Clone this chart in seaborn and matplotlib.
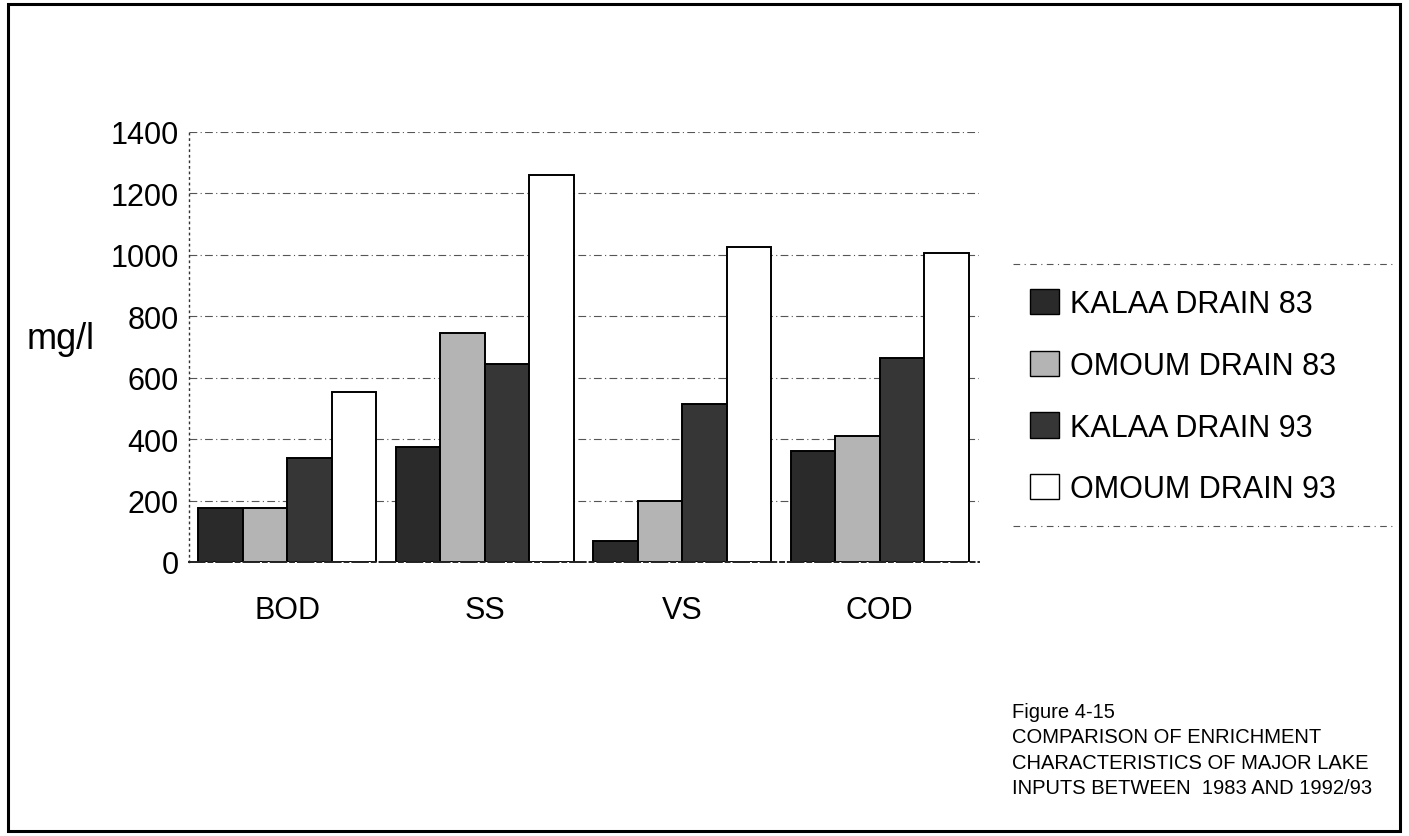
import numpy as np
import pandas as pd
import matplotlib
matplotlib.use("Agg")
import matplotlib.pyplot as plt
import seaborn as sns
from matplotlib import font_manager
from matplotlib.patches import Patch, Rectangle
from matplotlib.lines import Line2D

# Pollutant parameters along the x axis
parameters = ["BOD", "SS", "VS", "COD"]

# Drain / survey-year series
series_names = ["KALAA DRAIN 83", "OMOUM DRAIN 83", "KALAA DRAIN 93", "OMOUM DRAIN 93"]

# Concentrations in mg/l, one value per parameter
kalaa_83 = [175, 375, 70, 360]
omoum_83 = [175, 745, 200, 410]
kalaa_93 = [340, 645, 515, 665]
omoum_93 = [555, 1260, 1025, 1005]

y_ticks = [0, 200, 400, 600, 800, 1000, 1200, 1400]

caption_lines = [
    "Figure 4-15",
    "COMPARISON OF ENRICHMENT",
    "CHARACTERISTICS OF MAJOR LAKE",
    "INPUTS BETWEEN  1983 AND 1992/93",
]

values = kalaa_83 + omoum_83 + kalaa_93 + omoum_93
df = pd.DataFrame({
    "parameter": parameters * len(series_names),
    "series": np.repeat(series_names, len(parameters)),
    "mg_l": values,
})

sns.set_theme(style="white")
plt.rcParams["font.family"] = ["Liberation Sans", "DejaVu Sans"]
plt.rcParams["text.color"] = "black"
plt.rcParams["axes.labelcolor"] = "black"

W, H = 1409, 837
fig = plt.figure(figsize=(W / 100, H / 100), dpi=100)
fig.patch.set_facecolor("white")


def fx(px):
    return px / W


def fy(py):
    return 1 - py / H


ax = fig.add_axes([fx(188.5), fy(563), fx(790), 430 / H])

fill_colors = ["#2a2a2a", "#b4b4b4", "#363636", "#ffffff"]
sns.barplot(
    data=df, x="parameter", y="mg_l", hue="series",
    order=parameters, hue_order=series_names,
    palette=fill_colors, saturation=1, width=0.9, gap=0,
    edgecolor="black", linewidth=1.4, errorbar=None,
    legend=False, ax=ax, zorder=2,
)

ax.set_ylim(0, 1400)
ax.set_xlim(-0.5, 3.5)
ax.set_yticks(y_ticks)
ax.set_yticklabels([str(t) for t in y_ticks])
ax.set_xlabel("")
ax.set_ylabel("")
ax.set_facecolor("white")

ax.yaxis.grid(True, linestyle=(0, (7, 3, 1, 3)), color="#555555", linewidth=0.8)
ax.set_axisbelow(True)

for side in ("top", "right"):
    ax.spines[side].set_visible(False)
ax.spines["left"].set_linestyle((0, (1, 3)))
ax.spines["left"].set_color("#333333")
ax.spines["left"].set_linewidth(1.0)
ax.spines["bottom"].set_linestyle((0, (8, 2, 2, 2)))
ax.spines["bottom"].set_color("#222222")
ax.spines["bottom"].set_linewidth(1.4)

ax.tick_params(axis="y", length=0, pad=7, labelsize=22, colors="black")
ax.tick_params(axis="x", length=0, pad=24, labelsize=22, colors="black")

# unit label on the left
fig.text(fx(27), fy(340), "mg/l", fontsize=26, ha="left", va="center", color="black")

# legend with dashed rules above and below
handles = [Patch(facecolor=c, edgecolor="black", linewidth=1.0) for c in fill_colors]
fig.legend(
    handles, series_names, loc="upper left",
    bbox_to_anchor=(fx(1030), fy(290)), frameon=False, fontsize=22,
    handlelength=0.95, handleheight=0.9, handletextpad=0.35,
    labelspacing=1.03, borderaxespad=0, borderpad=0, labelcolor="black",
)
for yy in (265, 527):
    fig.add_artist(Line2D([fx(1013), fx(1395)], [fy(yy), fy(yy)],
                          transform=fig.transFigure, color="#555555",
                          linewidth=0.8, linestyle=(0, (6, 4, 1, 4))))

# caption block, set in a narrow face when one is available
installed = {f.name for f in font_manager.fontManager.ttflist}
if "Liberation Sans Narrow" in installed:
    cap_family, cap_size = ["Liberation Sans Narrow", "Liberation Sans"], 18
else:
    cap_family, cap_size = ["Liberation Sans", "DejaVu Sans"], 14.5
fig.text(fx(1012), fy(703), "\n".join(caption_lines), fontsize=cap_size,
         family=cap_family, ha="left", va="top", linespacing=1.42, color="black")

# page frame
fig.add_artist(Rectangle((fx(8), fy(832)), fx(1392), 827 / H,
                         transform=fig.transFigure, fill=False,
                         edgecolor="black", linewidth=2.2))

fig.savefig("out.png", dpi=100, facecolor="white")
